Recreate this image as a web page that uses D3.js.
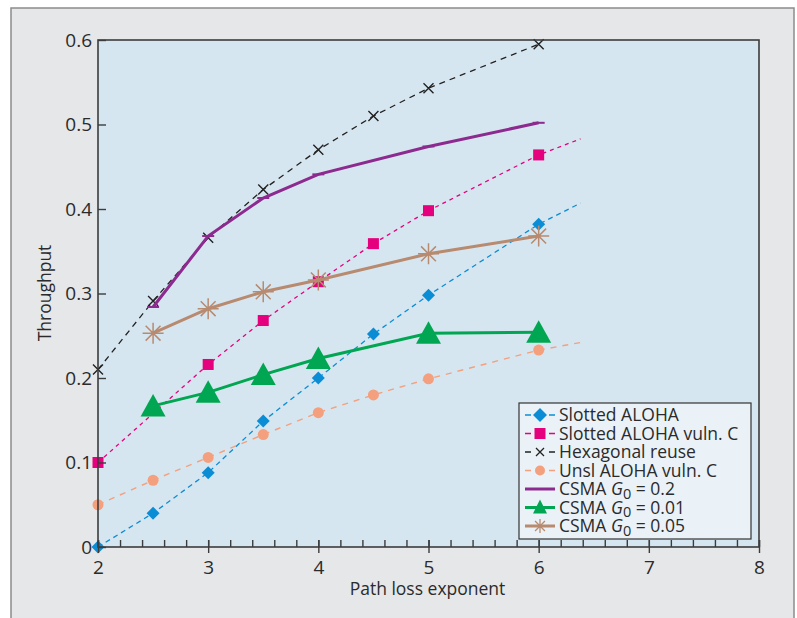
<!DOCTYPE html>
<html>
<head>
<meta charset="utf-8">
<script src="https://cdn.jsdelivr.net/npm/d3@7"></script>
<style>
  html, body { margin: 0; padding: 0; background: #ffffff; }
  svg { display: block; }
  text { font-family: "Open Sans", "Noto Sans", sans-serif; fill: #2b2b2b; }
</style>
</head>
<body>
<svg id="chart" width="797" height="618"></svg>
<script>
// Path loss exponent values at which each curve was evaluated
const xFull = [2, 2.5, 3, 3.5, 4, 4.5, 5, 6];
const xVulnC = [2, 3, 3.5, 4, 4.5, 5, 6];
const xCsma = [2.5, 3, 3.5, 4, 5, 6];

// Throughput series
const slottedAloha     = [0, 0.040, 0.088, 0.149, 0.200, 0.252, 0.298, 0.382];
const slottedAlohaC    = [0.100, 0.216, 0.268, 0.314, 0.359, 0.398, 0.464];
const hexagonalReuse   = [0.210, 0.291, 0.366, 0.423, 0.470, 0.510, 0.543, 0.595];
const unslAlohaC       = [0.050, 0.079, 0.106, 0.133, 0.159, 0.180, 0.199, 0.233];
const csmaG02          = [0.284, 0.368, 0.413, 0.441, 0.474, 0.502];
const csmaG001         = [0.167, 0.183, 0.204, 0.223, 0.253, 0.254];
const csmaG005         = [0.253, 0.282, 0.302, 0.316, 0.347, 0.368];

// Dashed trend lines run a little past the last computed point
const trendEndX = 6.38;
const slottedAlohaEnd  = 0.407;
const slottedAlohaCEnd = 0.483;
const unslAlohaCEnd    = 0.242;

// Axis ticks
const xTicks = [2, 3, 4, 5, 6, 7, 8];
const yTicks = [0, 0.1, 0.2, 0.3, 0.4, 0.5, 0.6];

const svg = d3.select("#chart");
const plot = { left: 98, right: 759, top: 40, bottom: 547 };

const x = d3.scaleLinear().domain([2, 8]).range([plot.left, plot.right]);
const y = d3.scaleLinear().domain([0, 0.6]).range([plot.bottom, plot.top]);

// Outer panel
svg.append("rect")
  .attr("x", 11).attr("y", 8).attr("width", 783).attr("height", 640)
  .attr("fill", "#e6e7e8").attr("stroke", "#8c8c8c").attr("stroke-width", 1.5);

// Plot background
svg.append("rect")
  .attr("x", plot.left).attr("y", plot.top)
  .attr("width", plot.right - plot.left).attr("height", plot.bottom - plot.top)
  .attr("fill", "#d6e6f0");

// Marker shapes
const markers = {
  diamond: (g, c) => g.append("path").attr("d", "M0,-6.5L6.5,0L0,6.5L-6.5,0Z").attr("fill", c),
  square: (g, c) => g.append("rect").attr("x", -5.5).attr("y", -5.5).attr("width", 11).attr("height", 11).attr("fill", c),
  cross: (g, c) => g.append("path").attr("d", "M-5,-5L5,5M-5,5L5,-5").attr("stroke", c).attr("stroke-width", 1.4).attr("fill", "none"),
  circle: (g, c) => g.append("circle").attr("r", 5.5).attr("fill", c),
  dash: (g, c) => g.append("path").attr("d", "M-6,0L6,0").attr("stroke", c).attr("stroke-width", 2).attr("fill", "none"),
  triangle: (g, c) => g.append("path").attr("d", "M0,-12L12.5,10.5L-12.5,10.5Z").attr("fill", c),
  asterisk: (g, c) => {
    const r = 10.5, d = r * Math.SQRT1_2;
    g.append("path")
      .attr("d", `M0,${-r}L0,${r}M${-r},0L${r},0M${-d},${-d}L${d},${d}M${-d},${d}L${d},${-d}`)
      .attr("stroke", c).attr("stroke-width", 1.5).attr("fill", "none");
  }
};

const series = [
  { name: "Slotted ALOHA", xs: xFull, ys: slottedAloha, end: slottedAlohaEnd, color: "#0b8dd6", dash: "5,4", width: 1.3, marker: "diamond" },
  { name: "Slotted ALOHA vuln. C", xs: xVulnC, ys: slottedAlohaC, end: slottedAlohaCEnd, color: "#e5007d", dash: "4,4", width: 1.3, marker: "square" },
  { name: "Hexagonal reuse", xs: xFull, ys: hexagonalReuse, end: null, color: "#222222", dash: "6,5", width: 1.3, marker: "cross" },
  { name: "Unsl ALOHA vuln. C", xs: xFull, ys: unslAlohaC, end: unslAlohaCEnd, color: "#f4a07e", dash: "6,6", width: 1.4, marker: "circle" },
  { name: "CSMA", g0: "0.2", xs: xCsma, ys: csmaG02, end: null, color: "#8d2a90", dash: null, width: 3, marker: "dash" },
  { name: "CSMA", g0: "0.01", xs: xCsma, ys: csmaG001, end: null, color: "#00a651", dash: null, width: 3, marker: "triangle" },
  { name: "CSMA", g0: "0.05", xs: xCsma, ys: csmaG005, end: null, color: "#b88a6f", dash: null, width: 3, marker: "asterisk" }
];

const line = d3.line().x(d => x(d[0])).y(d => y(d[1]));

series.forEach(s => {
  const pts = s.xs.map((v, i) => [v, s.ys[i]]);
  const linePts = s.end != null ? pts.concat([[trendEndX, s.end]]) : pts;
  const g = svg.append("g");
  g.append("path")
    .datum(linePts)
    .attr("d", line)
    .attr("fill", "none")
    .attr("stroke", s.color)
    .attr("stroke-width", s.width)
    .attr("stroke-dasharray", s.dash);
  pts.forEach(p => {
    const m = g.append("g").attr("transform", `translate(${x(p[0])},${y(p[1])})`);
    markers[s.marker](m, s.color);
  });
});

// Plot frame
svg.append("rect")
  .attr("x", plot.left).attr("y", plot.top)
  .attr("width", plot.right - plot.left).attr("height", plot.bottom - plot.top)
  .attr("fill", "none").attr("stroke", "#3c3c3c").attr("stroke-width", 1.6);

// X axis: inner minor ticks every 0.2, major ticks crossing the axis
const xMinor = svg.append("g")
  .attr("transform", `translate(0,${plot.bottom})`)
  .call(d3.axisBottom(x).tickValues(d3.range(2, 8.001, 0.2)).tickSize(-7).tickFormat(""));
const xMajor = svg.append("g")
  .attr("transform", `translate(0,${plot.bottom})`)
  .call(d3.axisBottom(x).tickValues(xTicks).tickSize(6).tickPadding(8).tickFormat(d3.format("d")));
const xMajorIn = svg.append("g")
  .attr("transform", `translate(0,${plot.bottom})`)
  .call(d3.axisBottom(x).tickValues(xTicks).tickSize(-7).tickFormat(""));

// Y axis: inner ticks
const yAxis = svg.append("g")
  .attr("transform", `translate(${plot.left},0)`)
  .call(d3.axisLeft(y).tickValues(yTicks).tickSize(-8).tickPadding(6)
    .tickFormat(d => d === 0 ? "0" : d3.format(".1f")(d)));

[xMinor, xMajor, xMajorIn, yAxis].forEach(a => {
  a.select(".domain").remove();
  a.selectAll(".tick line").attr("stroke", "#3c3c3c").attr("stroke-width", 1.4);
  a.selectAll("text").attr("font-size", 19).attr("fill", "#2b2b2b")
    .attr("font-family", '"Open Sans", "Noto Sans", sans-serif');
});

// Axis titles
svg.append("text")
  .attr("x", (plot.left + plot.right) / 2 - 1).attr("y", 595)
  .attr("text-anchor", "middle").attr("font-size", 17.5)
  .text("Path loss exponent");
svg.append("text")
  .attr("transform", "translate(51,293) rotate(-90)")
  .attr("text-anchor", "middle").attr("font-size", 17.5)
  .text("Throughput");

// Legend
const legend = svg.append("g");
legend.append("rect")
  .attr("x", 519).attr("y", 403).attr("width", 232).attr("height", 136)
  .attr("fill", "#eaf2f8").attr("stroke", "#333333").attr("stroke-width", 1.2);

series.forEach((s, i) => {
  const cy = 415 + i * 18.5;
  const row = legend.append("g");
  if (s.dash) {
    row.append("path")
      .attr("d", `M525,${cy}L531,${cy}M549,${cy}L555,${cy}`)
      .attr("stroke", s.color).attr("stroke-width", 1.3).attr("fill", "none");
  } else {
    row.append("path")
      .attr("d", `M525,${cy}L555,${cy}`)
      .attr("stroke", s.color).attr("stroke-width", 3).attr("fill", "none");
  }
  const m = row.append("g").attr("transform", `translate(540,${cy})`);
  if (s.marker === "triangle") {
    m.append("path").attr("d", "M0,-8L7,6L-7,6Z").attr("fill", s.color);
  } else if (s.marker === "asterisk") {
    const r = 7, d = r * Math.SQRT1_2;
    m.append("path")
      .attr("d", `M0,${-r}L0,${r}M${-r},0L${r},0M${-d},${-d}L${d},${d}M${-d},${d}L${d},${-d}`)
      .attr("stroke", s.color).attr("stroke-width", 1.3).attr("fill", "none");
  } else if (s.marker === "diamond") {
    m.append("path").attr("d", "M0,-7L7,0L0,7L-7,0Z").attr("fill", s.color);
  } else if (s.marker === "square") {
    m.append("rect").attr("x", -5.5).attr("y", -5.5).attr("width", 11).attr("height", 11).attr("fill", s.color);
  } else if (s.marker === "cross") {
    m.append("path").attr("d", "M-4,-4L4,4M-4,4L4,-4").attr("stroke", s.color).attr("stroke-width", 1.3);
  } else if (s.marker === "circle") {
    m.append("circle").attr("r", 5).attr("fill", s.color);
  }
  const t = row.append("text")
    .attr("x", 559).attr("y", cy + 6.3).attr("font-size", 17.5);
  if (s.g0) {
    t.append("tspan").text("CSMA ");
    t.append("tspan").attr("font-style", "italic").text("G");
    t.append("tspan").attr("font-size", 14.5).attr("dy", 3.5).text("0");
    t.append("tspan").attr("dy", -3.5).text(" = " + s.g0);
  } else {
    t.text(s.name);
  }
});
</script>
</body>
</html>
